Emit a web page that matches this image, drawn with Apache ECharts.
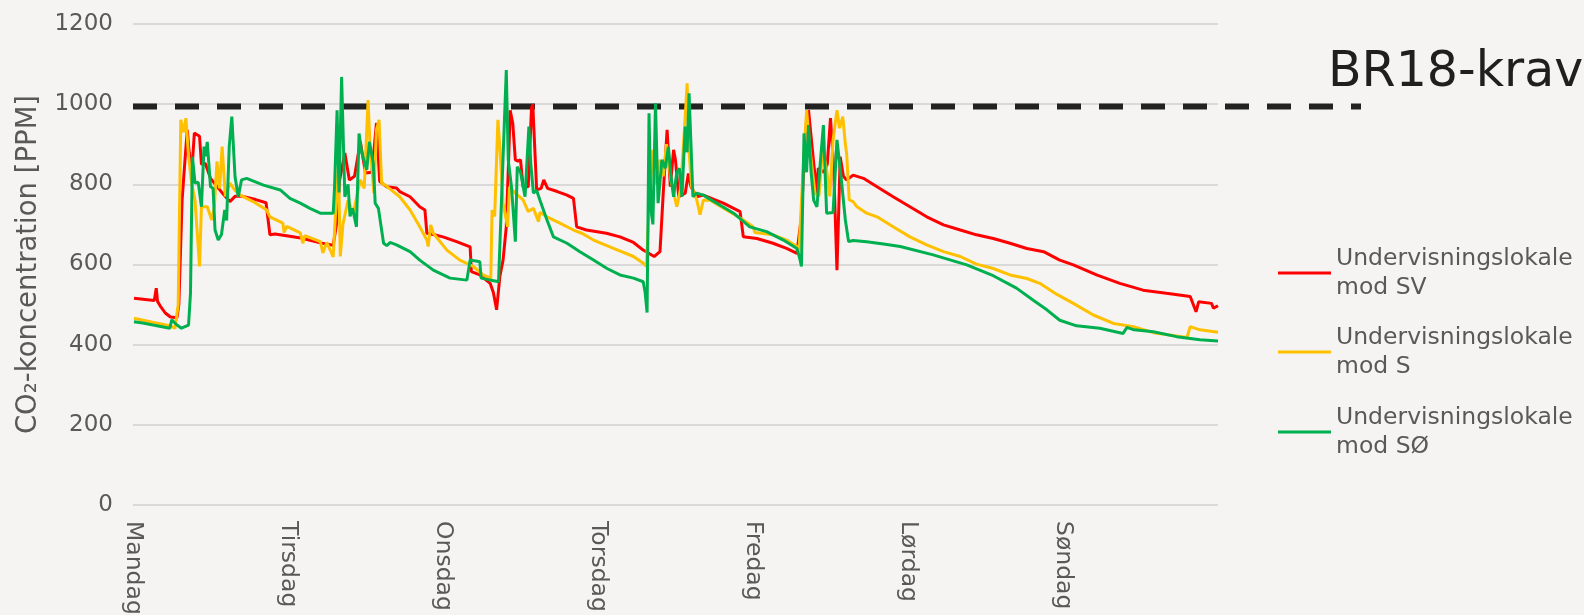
<!DOCTYPE html>
<html>
<head>
<meta charset="utf-8">
<script src="https://cdn.jsdelivr.net/npm/echarts@6/dist/echarts.min.js"></script>
<style>
  html, body { margin: 0; padding: 0; background: #f5f4f2; }
  #chart { width: 1584px; height: 615px; }
</style>
</head>
<body>
<div id="chart"></div>
<script>
// x in hours from Monday 00:00, y in ppm
var dayNames = ['Mandag', 'Tirsdag', 'Onsdag', 'Torsdag', 'Fredag', 'Lørdag', 'Søndag'];
var yTicks = [0, 200, 400, 600, 800, 1000, 1200];
var seriesNames = ['Undervisningslokale\nmod SV', 'Undervisningslokale\nmod S', 'Undervisningslokale\nmod SØ'];
var limitValue = 994;

var svHours = [0.15,3.3,3.6,3.8,4.2,5.0,5.8,6.8,7.1,7.6,8.0,8.4,8.7,9.1,9.5,10.3,10.6,11.2,12.0,13.0,14.0,15.0,15.8,17.0,19.0,20.6,21.2,22.0,26.0,29.0,31.0,
  31.5,32.0,32.8,33.5,34.3,35.2,36.0,37.0,37.7,38.2,39.3,40.8,41.3,42.9,44.4,45.2,45.5,46.5,48.0,50.1,52.2,52.4,53.7,55.3,55.8,56.3,56.8,57.3,57.8,58.2,58.4,58.8,59.2,59.6,60.0,60.4,61.2,61.7,61.9,62.5,63.2,63.6,64.2,65.7,67.2,68.2,68.7,70.2,73.3,75.4,77.5,79.0,
  80.7,81.6,82.1,82.7,83.2,83.7,84.0,84.5,85.5,86.0,86.4,87.3,88.3,91.4,94.0,94.5,96.6,99.1,101.2,102.8,103.5,104.1,104.6,105.4,105.9,106.1,107.0,107.5,108.0,108.5,109.0,109.3,109.5,110.0,110.5,111.5,113.1,115.2,117.7,120.3,122.9,125.5,128.1,130.6,133.2,135.8,138.4,141.0,143.5,145.6,149.2,152.8,156.4,160.0,163.7,164.6,165.0,167.0,167.3,168.0];
var svPpm = [516,510,541,508,497,479,469,467,500,760,850,936,880,830,928,920,850,852,815,795,775,757,770,770,762,754,674,676,666,654,648,
  700,811,878,811,820,906,828,830,953,807,794,791,782,769,744,736,678,675,669,657,644,582,574,553,530,487,570,611,694,880,985,952,861,858,861,794,794,990,1000,786,790,811,790,782,773,765,694,686,678,669,655,636,
  620,632,778,936,794,886,860,769,778,827,794,769,773,753,732,669,665,653,640,628,720,927,985,853,778,840,830,850,965,840,586,750,869,820,811,823,815,794,769,744,719,699,686,674,665,653,640,632,611,599,574,553,536,528,520,482,507,503,491,497];

var sHours = [0.15,3.0,5.7,6.5,7.0,7.4,7.8,8.2,8.6,9.1,9.6,10.3,10.6,11.5,12.2,12.6,13.0,13.4,13.8,14.3,15.0,15.8,16.6,18.6,20.7,21.2,23.2,23.4,23.8,25.9,26.3,26.6,29.0,29.4,30.0,31.0,31.3,31.8,32.1,32.5,33.3,34.1,35.2,35.8,36.4,36.7,37.0,37.3,37.7,38.1,38.5,39.3,40.3,41.3,42.9,44.4,45.5,45.7,46.1,46.5,48.6,50.6,52.7,54.2,55.4,55.6,56.0,56.5,56.8,57.3,58.0,58.3,59.2,60.4,61.2,62.0,62.8,63.0,64.1,66.1,68.2,69.5,71.3,74.4,77.5,79.0,79.5,
  80.3,80.8,81.6,82.1,82.6,83.3,84.2,84.8,85.4,85.8,86.1,86.5,87.3,87.8,88.3,89.3,91.9,94.5,96.0,96.3,99.1,101.2,102.8,103.1,103.8,104.3,104.8,105.6,106.2,106.8,107.4,107.9,108.4,109.0,109.4,109.9,110.3,110.5,110.9,111.5,112.1,113.6,115.2,117.7,120.3,122.9,125.5,128.1,130.6,133.2,135.8,138.4,140.4,143.0,145.6,148.7,151.8,154.9,158.0,163.2,163.7,165.2,168.0];
var sPpm = [466,456,447,441,500,961,930,965,870,800,761,595,744,744,711,744,857,790,894,770,803,785,773,757,736,719,703,680,695,679,653,672,657,629,655,619,711,853,620,700,760,728,811,790,1010,894,840,778,936,961,803,795,782,769,736,694,661,645,699,678,636,611,595,574,566,736,720,961,894,753,694,794,778,761,732,740,707,730,719,703,686,678,661,640,620,603,595,
  886,800,861,820,900,810,744,790,940,1052,880,794,761,724,760,761,736,711,694,680,674,661,645,628,850,985,890,778,770,890,836,770,911,985,940,969,900,877,761,757,744,728,719,694,669,649,632,620,601,590,574,565,553,526,503,474,453,445,430,418,445,437,431];

var soHours = [0.15,1.5,3.1,5.7,6.0,6.6,7.5,8.6,8.9,9.2,9.6,10.1,10.6,11.0,11.2,11.5,12.0,12.4,12.7,13.2,13.7,14.2,14.5,14.9,15.3,15.8,16.3,16.8,17.6,20.2,22.8,24.3,25.9,27.4,29.0,31.0,31.2,31.6,31.9,32.3,32.8,33.3,33.6,34.0,34.6,35.0,35.4,36.2,36.6,37.2,37.5,38.0,38.8,39.3,39.8,40.8,42.9,44.4,46.5,49.1,51.7,52.2,53.7,53.9,56.6,57.1,57.8,58.1,58.6,59.2,59.5,60.0,60.7,61.3,61.6,62.0,62.5,63.0,64.1,65.1,67.2,69.2,71.3,73.4,75.4,77.5,79.0,79.3,79.6,
  79.9,80.2,80.5,80.9,81.3,81.9,82.4,82.9,83.3,83.7,84.2,84.6,85.0,85.5,85.8,86.1,86.7,87.3,88.3,90.4,93.0,95.5,98.1,100.7,102.8,103.3,103.5,103.9,104.3,104.6,105.0,105.4,105.9,106.4,106.9,107.4,108.4,109.0,109.5,110.3,110.8,111.5,113.6,116.2,118.8,123.9,129.1,133.2,136.8,139.4,141.5,143.5,146.1,149.7,153.3,153.9,155.0,158.0,161.6,165.2,168.0];
var soPpm = [457,454,449,441,462,452,441,449,528,869,803,805,744,894,870,906,794,790,686,661,675,736,710,894,969,819,769,811,815,798,786,765,753,740,728,728,790,985,780,1068,769,800,720,740,694,927,880,836,906,853,753,740,653,647,655,649,632,611,586,566,561,611,607,566,557,778,1085,861,794,657,844,830,769,944,850,778,785,761,711,669,653,632,611,590,574,566,557,530,480,
  977,736,700,1002,753,861,840,894,820,769,830,840,769,944,880,1027,769,778,773,753,728,694,682,661,640,611,595,927,830,948,830,760,744,850,948,728,730,911,840,711,657,660,657,651,645,624,599,572,541,511,487,461,447,441,428,443,437,432,420,412,409];

function pairs(xs, ys) {
  var out = [];
  for (var i = 0; i < xs.length; i++) out.push([xs[i], ys[i]]);
  return out;
}

var colors = ['#ff0000', '#ffc000', '#00b050'];
var font = 'DejaVu Sans';
var grey = '#595959';
var iconTops = [273, 352, 432];

var chart = echarts.init(document.getElementById('chart'));
chart.setOption({
  backgroundColor: '#f5f4f2',
  animation: false,
  textStyle: { fontFamily: font },
  grid: [
    { left: 133, right: 366, top: 24, bottom: 110, outerBoundsMode: 'none' },
    { left: 133, right: 223, top: 24, bottom: 110, outerBoundsMode: 'none' }
  ],
  xAxis: [{
    type: 'value', gridIndex: 0, min: 0, max: 168, interval: 24,
    axisLine: { show: false }, axisTick: { show: false }, splitLine: { show: false },
    axisLabel: {
      rotate: -90, margin: 16, fontSize: 23.5, color: grey, fontFamily: font,
      showMaxLabel: false,
      formatter: function (v) { return dayNames[v / 24] || ''; }
    }
  }, {
    type: 'value', gridIndex: 1, min: 0, max: 1, show: false
  }],
  yAxis: [{
    type: 'value', gridIndex: 0, min: 0, max: 1200, interval: 200,
    axisLine: { show: false }, axisTick: { show: false },
    splitLine: { lineStyle: { color: '#d9d9d9', width: 2 } },
    axisLabel: { fontSize: 23, color: grey, margin: 20, fontFamily: font,
      formatter: function (v) { return yTicks.indexOf(v) >= 0 ? String(v) : ''; } },
    name: 'CO₂-koncentration [PPM]', nameLocation: 'middle', nameGap: 90, nameRotate: 90,
    nameTextStyle: { fontSize: 27.5, color: grey, fontFamily: font }
  }, {
    type: 'value', gridIndex: 1, min: 0, max: 1200, show: false
  }],
  legend: seriesNames.map(function (n, i) {
    return {
      data: [n], orient: 'vertical', left: 1278, top: iconTops[i] - 43.5,
      padding: 0, itemGap: 0, itemWidth: 53, itemHeight: 3, icon: 'rect',
      selectedMode: false,
      textStyle: { fontSize: 23.5, color: grey, fontFamily: font, lineHeight: 29, padding: [29, 0, 0, 0] }
    };
  }),
  graphic: [{
    type: 'text', x: 1328, y: 73,
    style: { text: 'BR18-krav', fontSize: 49, fontFamily: font, fill: '#1f1f1f', verticalAlign: 'middle' }
  }],
  series: [
    { name: seriesNames[0], type: 'line', data: pairs(svHours, svPpm), showSymbol: false, symbol: 'none',
      color: colors[0], lineStyle: { width: 3 } },
    { name: seriesNames[1], type: 'line', data: pairs(sHours, sPpm), showSymbol: false, symbol: 'none',
      color: colors[1], lineStyle: { width: 3 } },
    { name: seriesNames[2], type: 'line', data: pairs(soHours, soPpm), showSymbol: false, symbol: 'none',
      color: colors[2], lineStyle: { width: 3 } },
    { name: 'BR18-krav', type: 'line', xAxisIndex: 1, yAxisIndex: 1, data: [[0, limitValue], [1, limitValue]],
      symbol: 'none', z: 1, lineStyle: { color: '#222222', width: 6, type: [24, 18] } }
  ]
});
</script>
</body>
</html>
